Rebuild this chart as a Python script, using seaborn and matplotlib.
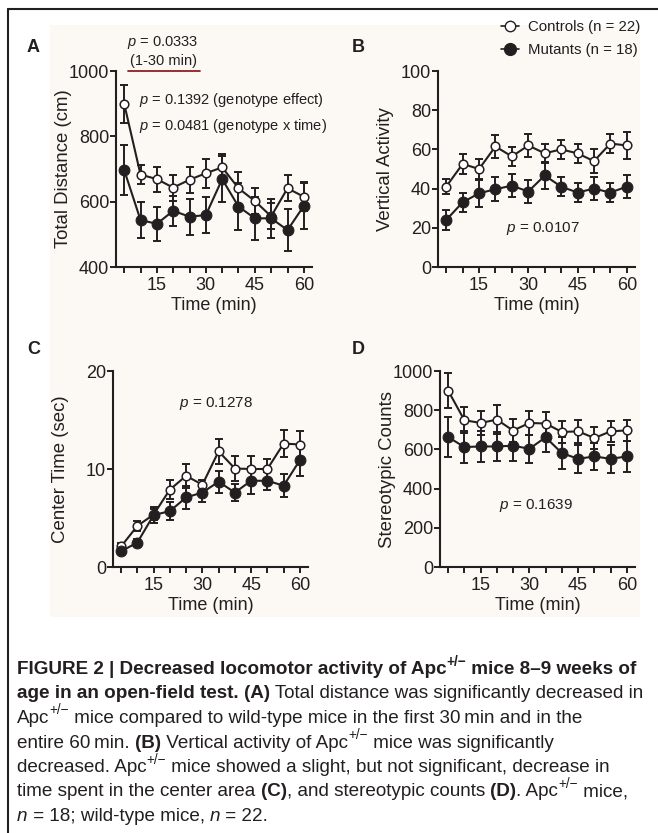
"""Open-field test: four panels (A-D) of controls vs mutants over 60 min, plus caption."""

import matplotlib

matplotlib.use("Agg")
import matplotlib.pyplot as plt
import pandas as pd
import seaborn as sns
from matplotlib.lines import Line2D
from matplotlib.patches import Rectangle

# ---- data ----
TIME = [5, 10, 15, 20, 25, 30, 35, 40, 45, 50, 55, 60]

dist_ctrl = [900, 683, 669, 643, 667, 687, 705, 641, 602, 555, 641, 615]
dist_ctrl_err = [58, 30, 38, 40, 40, 45, 40, 50, 40, 40, 40, 45]
dist_mut = [697, 544, 532, 572, 554, 559, 669, 585, 549, 549, 513, 587]
dist_mut_err = [78, 55, 52, 45, 55, 55, 70, 72, 65, 60, 65, 70]

vert_ctrl = [41, 52.6, 50, 61.5, 56.4, 62, 58, 60, 58, 54, 63, 62]
vert_ctrl_err = [4, 5, 5, 6, 5, 6, 5, 5, 5, 6, 5, 7]
vert_mut = [24, 33, 37.6, 39.7, 41.5, 38.5, 46.7, 41, 38, 40, 38, 41]
vert_mut_err = [5, 5, 7, 6, 6, 6, 7, 5, 5, 6, 5, 6]

center_ctrl = [2.1, 4.2, 5.35, 7.9, 9.3, 8.4, 11.8, 10.05, 10, 10, 12.6, 12.5]
center_ctrl_err = [0.3, 0.5, 0.6, 1.0, 1.2, 0.5, 1.3, 1.3, 1.3, 1.0, 1.4, 1.4]
center_mut = [1.6, 2.5, 5.3, 5.7, 7.1, 7.6, 8.7, 7.6, 8.8, 8.8, 8.3, 10.9]
center_mut_err = [0.3, 0.4, 0.8, 0.9, 1.2, 1.0, 1.1, 0.9, 1.4, 0.9, 1.2, 1.6]

stereo_ctrl = [900, 749, 735, 752, 696, 735, 732, 689, 692, 658, 692, 697]
stereo_ctrl_err = [88, 65, 60, 75, 60, 60, 60, 55, 60, 55, 55, 55]
stereo_mut = [663, 612, 615, 615, 619, 603, 662, 581, 552, 564, 552, 564]
stereo_mut_err = [100, 80, 80, 75, 80, 70, 75, 80, 70, 70, 70, 80]

X_LABELS = ["", "", "15", "", "", "30", "", "", "45", "", "", "60"]

CAPTION = [
    [("FIGURE 2 | Decreased locomotor activity of Apc", "b"), ("+/\u2212", "bsup"),
     (" mice 8\u20139 weeks of", "b")],
    [("age in an open-field test. ", "b"), ("(A)", "b"),
     (" Total distance was significantly decreased in", "r")],
    [("Apc", "r"), ("+/\u2212", "sup"),
     (" mice compared to wild-type mice in the first 30\u2009min and in the", "r")],
    [("entire 60\u2009min. ", "r"), ("(B)", "b"), (" Vertical activity of Apc", "r"),
     ("+/\u2212", "sup"), (" mice was significantly", "r")],
    [("decreased. Apc", "r"), ("+/\u2212", "sup"),
     (" mice showed a slight, but not significant, decrease in", "r")],
    [("time spent in the center area ", "r"), ("(C)", "b"), (", and stereotypic counts ", "r"),
     ("(D)", "b"), (". Apc", "r"), ("+/\u2212", "sup"), (" mice,", "r")],
    [("n", "i"), (" = 18; wild-type mice, ", "r"), ("n", "i"), (" = 22.", "r")],
]

INK = "#231f20"
W, H = 658, 833

sns.set_theme(style="ticks", rc={"axes.facecolor": "none", "figure.facecolor": "white"})
plt.rcParams["font.family"] = ["Liberation Sans", "DejaVu Sans"]
plt.rcParams["mathtext.fontset"] = "custom"
plt.rcParams["mathtext.rm"] = "Liberation Sans"
plt.rcParams["mathtext.it"] = "Liberation Sans:italic"
plt.rcParams["mathtext.bf"] = "Liberation Sans:bold"
plt.rcParams["text.color"] = INK
plt.rcParams["axes.labelcolor"] = INK
plt.rcParams["xtick.color"] = INK
plt.rcParams["ytick.color"] = INK


def px(x, y):
    return x / W, 1 - y / H


def draw_panel(ax, ctrl, ctrl_err, mut, mut_err, ylim, yticks, ylabel):
    df_c = pd.DataFrame({"Time": TIME, "value": ctrl})
    df_m = pd.DataFrame({"Time": TIME, "value": mut})
    ax.errorbar(TIME, ctrl, yerr=ctrl_err, fmt="none", ecolor=INK, elinewidth=1.4,
                capsize=3, capthick=1.4, zorder=2, clip_on=False)
    ax.errorbar(TIME, mut, yerr=mut_err, fmt="none", ecolor=INK, elinewidth=1.4,
                capsize=3, capthick=1.4, zorder=2, clip_on=False)
    sns.lineplot(data=df_c, x="Time", y="value", color=INK, lw=1.5, marker="o",
                 markersize=6.2, markerfacecolor="white", markeredgecolor=INK,
                 markeredgewidth=1.1, errorbar=None, ax=ax, zorder=3, clip_on=False)
    sns.lineplot(data=df_m, x="Time", y="value", color=INK, lw=1.5, marker="o",
                 markersize=7.8, markerfacecolor=INK, markeredgecolor=INK,
                 errorbar=None, ax=ax, zorder=4, clip_on=False)
    ax.set_xlim(2.5, 62.5)
    ax.set_ylim(*ylim)
    ax.set_yticks(yticks)
    ax.set_xticks(TIME)
    ax.set_xticklabels(X_LABELS)
    ax.tick_params(axis="both", labelsize=13, length=4, width=1.4, direction="out")
    ax.tick_params(axis="y", pad=1)
    for side in ("top", "right"):
        ax.spines[side].set_visible(False)
    for side in ("left", "bottom"):
        ax.spines[side].set_linewidth(1.5)
        ax.spines[side].set_color(INK)
    ax.set_xlabel("Time (min)", fontsize=13)
    ax.set_ylabel(ylabel, fontsize=13.4)
    ax.xaxis.set_label_coords(0.5, -0.155)
    ax.yaxis.set_label_coords(-0.225, 0.5)


fig = plt.figure(figsize=(W / 100, H / 100), dpi=100)

# light cream panel background and frame lines
fig.patches.append(Rectangle(px(50, 617), 590 / W, 592 / H, transform=fig.transFigure,
                             facecolor="#fcf9f4", edgecolor="none", zorder=-10))
fig.add_artist(Line2D([7.5 / W, 1], [1 - 9 / H] * 2, color=INK, lw=1.5))
fig.add_artist(Line2D([7.5 / W] * 2, [0, 1 - 9 / H], color=INK, lw=1.5))

ax_a = fig.add_axes([116 / W, 1 - 267 / H, 196 / W, 196 / H])
ax_b = fig.add_axes([438 / W, 1 - 267 / H, 197 / W, 196 / H])
ax_c = fig.add_axes([113 / W, 1 - 567 / H, 195 / W, 196 / H])
ax_d = fig.add_axes([440 / W, 1 - 567 / H, 195 / W, 196 / H])

draw_panel(ax_a, dist_ctrl, dist_ctrl_err, dist_mut, dist_mut_err,
           (400, 1000), [400, 600, 800, 1000], "Total Distance (cm)")
draw_panel(ax_b, vert_ctrl, vert_ctrl_err, vert_mut, vert_mut_err,
           (0, 100), [0, 20, 40, 60, 80, 100], "Vertical Activity")
draw_panel(ax_c, center_ctrl, center_ctrl_err, center_mut, center_mut_err,
           (0, 20), [0, 10, 20], "Center Time (sec)")
draw_panel(ax_d, stereo_ctrl, stereo_ctrl_err, stereo_mut, stereo_mut_err,
           (0, 1000), [0, 200, 400, 600, 800, 1000], "Stereotypic Counts")

# panel letters
for letter, (x, y) in zip("ABCD", [(27, 52), (352, 52), (27, 354), (352, 354)]):
    fig.text(*px(x, y), letter, fontsize=13, fontweight="bold", ha="left", va="baseline")

# annotations
ax_a.text(16.9, 1086, "$p$ = 0.0333", fontsize=10.5, ha="center", va="center")
ax_a.text(16.9, 1031, "(1-30 min)", fontsize=10.5, ha="center", va="center")
ax_a.plot([6.2, 28.2], [1000, 1000], color="#8b2323", lw=1.3, clip_on=False)
ax_a.text(9.5, 911, "$p$ = 0.1392 (genotype effect)", fontsize=10.5, va="center")
ax_a.text(9.5, 832, "$p$ = 0.0481 (genotype x time)", fontsize=10.5, va="center")
ax_b.text(34.5, 19.4, "$p$ = 0.0107", fontsize=11, ha="center", va="center")
ax_c.text(34.2, 16.7, "$p$ = 0.1278", fontsize=11, ha="center", va="center")
ax_d.text(32, 316, "$p$ = 0.1639", fontsize=11, ha="center", va="center")

# legend
handles = [
    Line2D([], [], color=INK, lw=1.2, marker="o", markersize=7.5, markerfacecolor="white",
           markeredgecolor=INK, markeredgewidth=1.0),
    Line2D([], [], color=INK, lw=1.2, marker="o", markersize=8.5, markerfacecolor=INK),
]
ax_b.legend(handles, ["Controls (n = 22)", "Mutants (n = 18)"], loc="upper right",
            bbox_to_anchor=px(640, 20), bbox_transform=fig.transFigure, frameon=False,
            fontsize=10.8, handlelength=1.2, handletextpad=0.6, labelspacing=0.6,
            borderpad=0, borderaxespad=0)

# caption, drawn piece by piece so bold / italic / superscripts can mix in one line
renderer = fig.canvas.get_renderer()
CAP_SIZE = 13.6
for i, line in enumerate(CAPTION):
    x = 17
    y = 674 + i * 24.5
    for s, kind in line:
        sup = "sup" in kind
        size = CAP_SIZE * 0.72 if sup else CAP_SIZE
        dy = CAP_SIZE * 0.45 * 100 / 72 if sup else 0
        t = fig.text(*px(x, y - dy), s, fontsize=size,
                     fontweight="bold" if kind.startswith("b") else "normal",
                     fontstyle="italic" if kind == "i" else "normal",
                     ha="left", va="baseline")
        x += t.get_window_extent(renderer).width

fig.savefig("out.png", dpi=100)
